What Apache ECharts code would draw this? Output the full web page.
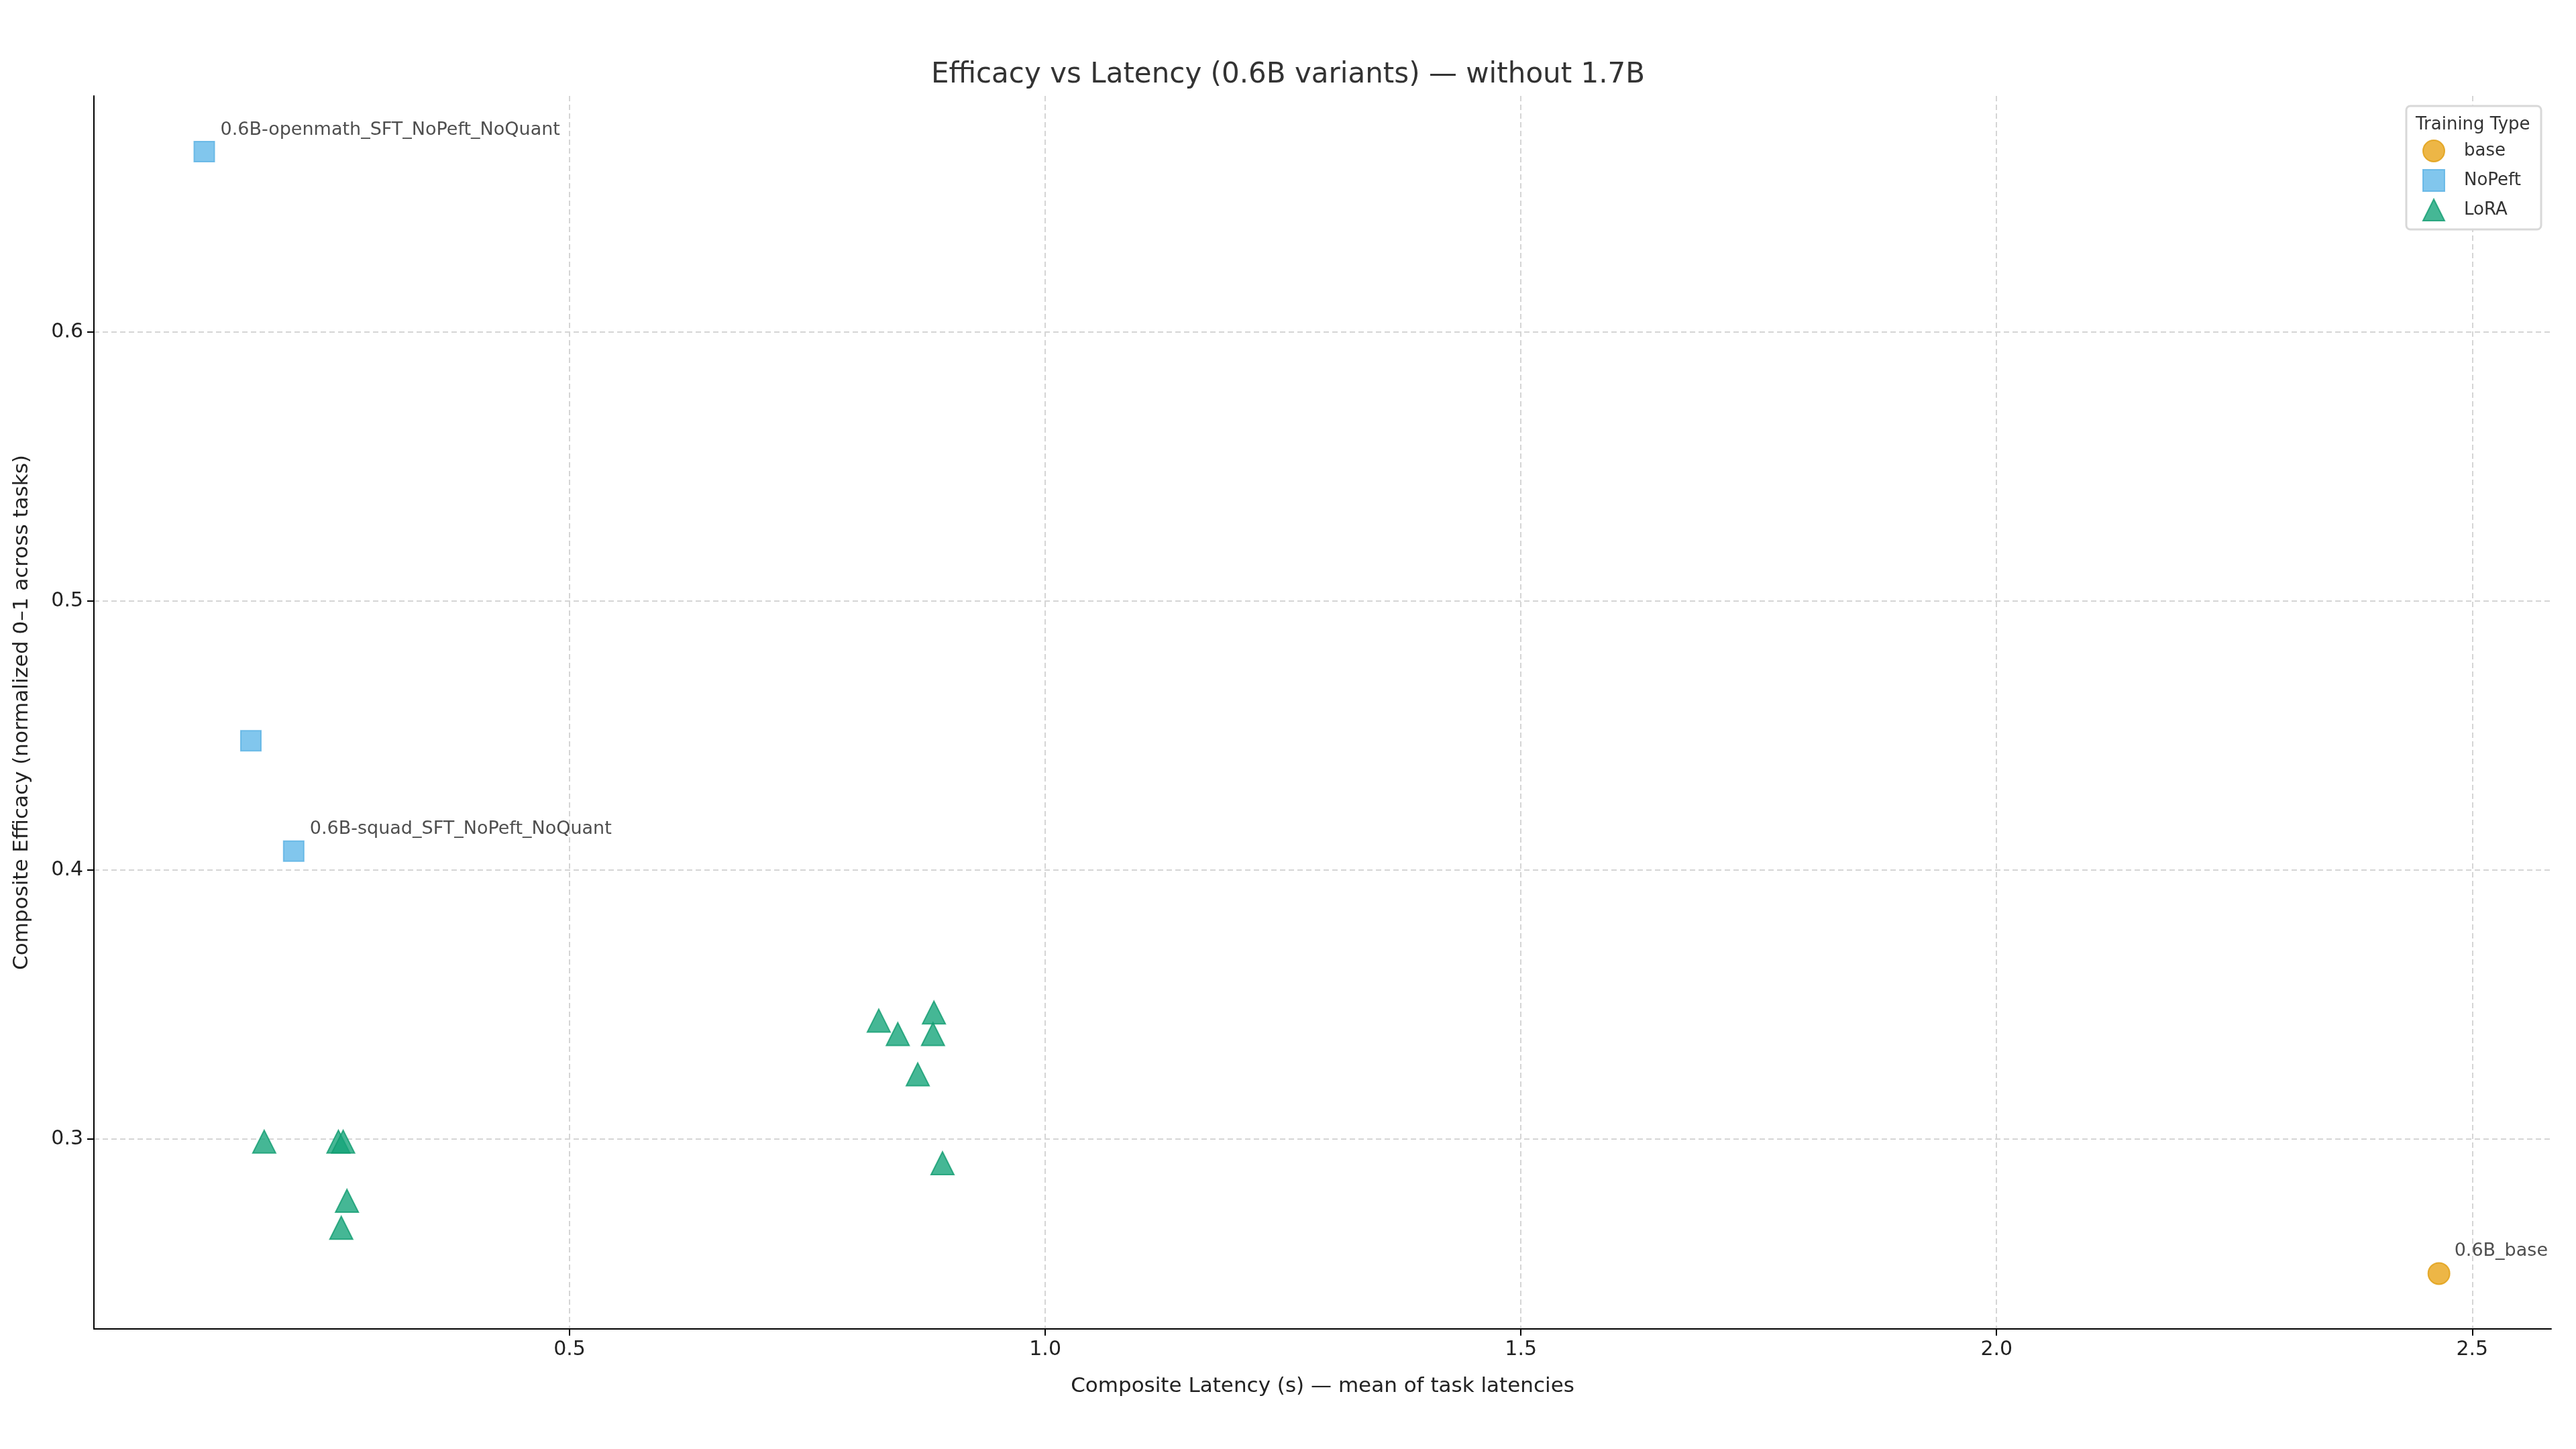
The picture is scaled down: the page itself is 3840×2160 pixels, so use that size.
<!DOCTYPE html>
<html>
<head>
<meta charset="utf-8">
<script src="https://cdn.jsdelivr.net/npm/echarts@6/dist/echarts.min.js"></script>
<style>html,body{margin:0;background:#fff}#c{width:3840px;height:2160px}</style>
</head>
<body>
<div id="c"></div>
<script>
// points as [latency, efficacy, label]
const basePts = [[2.465, 0.250, '0.6B_base']];
const nopeftPts = [
  [0.116, 0.667, '0.6B-openmath_SFT_NoPeft_NoQuant'],
  [0.165, 0.448, ''],
  [0.210, 0.407, '0.6B-squad_SFT_NoPeft_NoQuant']
];
const loraPts = [
  [0.179, 0.299], [0.257, 0.299], [0.262, 0.299], [0.266, 0.277], [0.260, 0.267],
  [0.825, 0.344], [0.845, 0.339], [0.883, 0.347], [0.882, 0.339], [0.866, 0.324], [0.892, 0.291]
];
const xTicks = [0.5, 1.0, 1.5, 2.0, 2.5];
const yTicks = [0.3, 0.4, 0.5, 0.6];

const font = 'DejaVu Sans';
const toItems = pts => pts.map(p => ({
  value: [p[0], p[1]],
  label: p[2] ? { show: true, formatter: p[2] } : { show: false }
}));
const lbl = { position: [40, -30], fontFamily: font, fontSize: 27, color: '#222' };
const split = { show: true, lineStyle: { color: '#d5d5d5', type: [8, 5], width: 2 } };

const chart = echarts.init(document.getElementById('c'));
chart.setOption({
  animation: false,
  title: [
    { text: 'Efficacy vs Latency (0.6B variants) — without 1.7B', left: 'center', top: 86,
      textStyle: { fontFamily: font, fontSize: 42, fontWeight: 'normal', color: '#333' } },
    { text: 'Training Type', left: 3596, top: 168,
      textStyle: { fontFamily: font, fontSize: 26, fontWeight: 'normal', color: '#333' } }
  ],
  grid: { left: 140, right: 37, top: 143, bottom: 179 },
  legend: {
    orient: 'vertical', right: 52, top: 158, padding: [50, 30, 12, 24],
    itemWidth: 32, itemHeight: 32, itemGap: 10,
    backgroundColor: '#fff', borderColor: '#d8d8d8', borderWidth: 3, borderRadius: 6,
    textStyle: { fontFamily: font, fontSize: 26, color: '#333', padding: [0, 0, 0, 24] },
    data: ['base', 'NoPeft', 'LoRA']
  },
  xAxis: {
    type: 'value', min: 0, max: 2.583,
    name: 'Composite Latency (s) — mean of task latencies', nameLocation: 'middle', nameGap: 70,
    nameTextStyle: { fontFamily: font, fontSize: 31, color: '#222' },
    axisLine: { show: true, lineStyle: { color: '#000', width: 2 } },
    axisTick: { show: true, length: 10, lineStyle: { color: '#000', width: 2 }, customValues: xTicks },
    axisLabel: { fontFamily: font, fontSize: 30, color: '#222', margin: 16, customValues: xTicks,
      formatter: v => v.toFixed(1) },
    splitLine: split
  },
  yAxis: {
    type: 'value', min: 0.2294, max: 0.6877,
    name: 'Composite Efficacy (normalized 0–1 across tasks)', nameLocation: 'middle', nameGap: 92,
    nameTextStyle: { fontFamily: font, fontSize: 31, color: '#222' },
    axisLine: { show: true, lineStyle: { color: '#000', width: 2 } },
    axisTick: { show: true, length: 10, lineStyle: { color: '#000', width: 2 }, customValues: yTicks },
    axisLabel: { fontFamily: font, fontSize: 30, color: '#222', margin: 16, customValues: yTicks,
      formatter: v => v.toFixed(1) },
    splitLine: split
  },
  series: [
    { name: 'base', type: 'scatter', symbol: 'circle', symbolSize: 32, data: toItems(basePts),
      itemStyle: { color: '#E8A418', borderColor: '#e09d10', borderWidth: 2 }, label: lbl },
    { name: 'NoPeft', type: 'scatter', symbol: 'rect', symbolSize: 30, data: toItems(nopeftPts),
      itemStyle: { color: '#62B8E8', borderColor: '#5ab2e4', borderWidth: 2 }, label: lbl },
    { name: 'LoRA', type: 'scatter', symbol: 'triangle', symbolSize: 34, data: toItems(loraPts),
      itemStyle: { color: '#17A57A', borderColor: '#119c70', borderWidth: 2 }, label: lbl }
  ]
});
</script>
</body>
</html>
